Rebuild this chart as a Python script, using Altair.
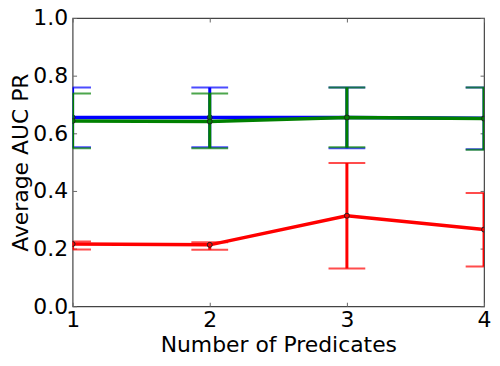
import altair as alt
import pandas as pd

x_vals = [1, 2, 3, 4]
series_names = ["red", "blue", "green"]
colors = ["#ff0000", "#0000ff", "#008000"]

red_mean = [0.216, 0.213, 0.314, 0.266]
red_hi = [0.225, 0.222, 0.497, 0.393]
red_lo = [0.197, 0.196, 0.131, 0.138]

blue_mean = [0.655, 0.655, 0.655, 0.652]
blue_hi = [0.759, 0.759, 0.759, 0.759]
blue_lo = [0.552, 0.552, 0.548, 0.545]

green_mean = [0.643, 0.641, 0.655, 0.651]
green_hi = [0.738, 0.738, 0.759, 0.759]
green_lo = [0.548, 0.548, 0.552, 0.543]

data = {
    "red": (red_mean, red_hi, red_lo),
    "blue": (blue_mean, blue_hi, blue_lo),
    "green": (green_mean, green_hi, green_lo),
}

FONT = "DejaVu Sans"
FS = 22
xscale = alt.Scale(domain=[1, 4], nice=False, zero=False)
yscale = alt.Scale(domain=[0, 1], nice=False)

layers = []

# axis layer (bottom/left)
df0 = pd.DataFrame({"x": x_vals, "m": red_mean})
axis_layer = alt.Chart(df0).mark_point(opacity=0).encode(
    x=alt.X("x:Q", scale=xscale, axis=alt.Axis(
        orient="bottom", values=x_vals, format="d", title="Number of Predicates",
        grid=False, domain=False, ticks=True, tickSize=4, offset=-4, tickColor="#666",
        labelFontSize=FS, titleFontSize=FS, labelFont=FONT, titleFont=FONT,
        labelColor="black", titleColor="black", titleFontWeight="normal",
        labelPadding=3, titlePadding=5, labelFlush=False)),
    y=alt.Y("m:Q", scale=yscale, axis=alt.Axis(
        orient="left", values=[0, 0.2, 0.4, 0.6, 0.8, 1.0], format=".1f",
        title="Average AUC PR", grid=False, domain=False, ticks=True, tickSize=4,
        offset=-4, tickColor="#666",
        labelFontSize=FS, titleFontSize=FS, labelFont=FONT, titleFont=FONT,
        labelColor="black", titleColor="black", titleFontWeight="normal",
        labelPadding=5, titlePadding=0, labelFlush=False)),
)
layers.append(axis_layer)

for name, col in zip(series_names, colors):
    m, hi, lo = data[name]
    df = pd.DataFrame({"x": x_vals, "m": m, "hi": hi, "lo": lo})
    base = alt.Chart(df)
    line = base.mark_line(color=col, strokeWidth=3.5, clip=True).encode(
        x=alt.X("x:Q", scale=xscale, axis=None),
        y=alt.Y("m:Q", scale=yscale, axis=None),
    )
    bar = base.mark_rule(color=col, strokeWidth=3, clip=True).encode(
        x=alt.X("x:Q", scale=xscale, axis=None),
        y=alt.Y("lo:Q", scale=yscale, axis=None),
        y2="hi:Q",
    )
    cap_hi = base.mark_tick(color=col, size=37, thickness=2, orient="horizontal", clip=True).encode(
        x=alt.X("x:Q", scale=xscale, axis=None),
        y=alt.Y("hi:Q", scale=yscale, axis=None),
    )
    cap_lo = base.mark_tick(color=col, size=37, thickness=2, orient="horizontal", clip=True).encode(
        x=alt.X("x:Q", scale=xscale, axis=None),
        y=alt.Y("lo:Q", scale=yscale, axis=None),
    )
    pts = base.mark_point(filled=True, color=col, stroke="#222", strokeWidth=1, size=25,
                          opacity=1, clip=True).encode(
        x=alt.X("x:Q", scale=xscale, axis=None),
        y=alt.Y("m:Q", scale=yscale, axis=None),
    )
    layers += [line, bar, cap_hi, cap_lo, pts]

# top/right inward ticks
top_right = alt.Chart(df0).mark_point(opacity=0).encode(
    x=alt.X("x:Q", scale=xscale, axis=alt.Axis(
        orient="top", values=x_vals, labels=False, title=None, grid=False, domain=False,
        tickSize=4, offset=-4, tickColor="#666")),
    y=alt.Y("m:Q", scale=yscale, axis=alt.Axis(
        orient="right", values=[0, 0.2, 0.4, 0.6, 0.8, 1.0], labels=False, title=None,
        grid=False, domain=False, tickSize=4, offset=-4, tickColor="#666")),
)
layers.append(top_right)

chart = alt.layer(*layers).resolve_axis(x="independent", y="independent").properties(
    width=414, height=290,
    autosize=alt.AutoSizeParams(type="none"),
    padding={"left": 65, "top": 9, "right": 8, "bottom": 51},
    background="white",
).configure_view(stroke="#444", strokeWidth=1.2)

chart.save("out.html", embed_options={"renderer": "svg", "actions": False})
